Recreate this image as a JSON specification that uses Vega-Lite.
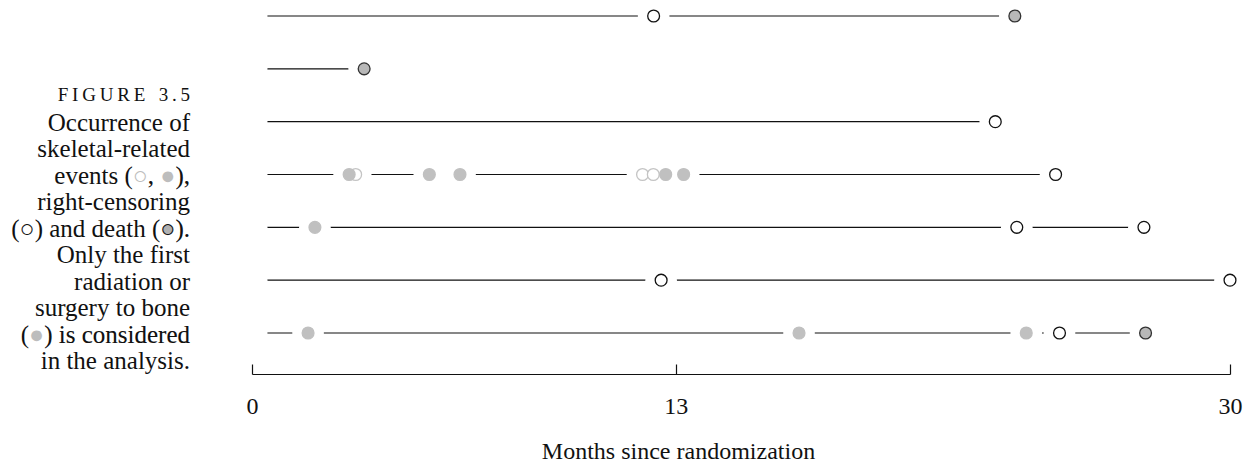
{
  "$schema": "https://vega.github.io/schema/vega-lite/v6.json",
  "padding": 0,
  "background": "white",
  "spacing": 62,
  "bounds": "flush",
  "resolve": {"scale": {"color": "independent", "fill": "independent", "stroke": "independent"}},
  "config": {
    "view": {"stroke": null},
    "font": "Liberation Serif",
    "text": {"font": "Liberation Serif"}
  },
  "hconcat": [
    {
      "width": 190,
      "height": 373,
      "encoding": {
        "x": {"datum": 1, "type": "quantitative", "scale": {"domain": [0, 1], "nice": false}, "axis": null},
        "y": {"field": "line", "type": "quantitative", "scale": {"domain": [-3.913, 10.189], "reverse": true, "nice": false, "zero": false}, "axis": null},
        "text": {"field": "text"},
        "color": {
          "field": "tone",
          "type": "nominal",
          "scale": {"domain": ["ink", "event", "death", "erase"], "range": ["#111111", "#bdbdbd", "#b0b0b0", "#ffffff"]},
          "legend": null
        },
        "stroke": {
          "field": "tone",
          "type": "nominal",
          "scale": {"domain": ["ink", "event", "death", "erase"], "range": ["transparent", "transparent", "transparent", "#ffffff"]},
          "legend": null
        }
      },
      "layer": [
        {
          "data": {"values": [{"line": -0.13, "text": "F\u2009I\u2009G\u2009U\u2009R\u2009E\u2002\u20093\u2009.\u20095", "tone": "ink"}]},
          "mark": {"type": "text", "align": "right", "baseline": "alphabetic", "fontSize": 19}
        },
        {
          "data": {
            "values": [
              {"line": 1, "text": "Occurrence of", "tone": "ink"},
              {"line": 2, "text": "skeletal-related", "tone": "ink"},
              {"line": 3, "text": "events (○, ●),", "tone": "ink"},
              {"line": 3, "text": "○, ●),", "tone": "erase"},
              {"line": 3, "text": "○, ●),", "tone": "event"},
              {"line": 3, "text": ", ●),", "tone": "ink"},
              {"line": 3, "text": "●),", "tone": "erase"},
              {"line": 3, "text": "●),", "tone": "event"},
              {"line": 3, "text": "),", "tone": "ink"},
              {"line": 4, "text": "right-censoring", "tone": "ink"},
              {"line": 5, "text": "(○) and death (●).", "tone": "ink"},
              {"line": 5, "text": "●).", "tone": "erase"},
              {"line": 5, "text": "●).", "tone": "death"},
              {"line": 5, "text": "○).", "tone": "ink"},
              {"line": 6, "text": "Only the first", "tone": "ink"},
              {"line": 7, "text": "radiation or", "tone": "ink"},
              {"line": 8, "text": "surgery to bone", "tone": "ink"},
              {"line": 9, "text": "(●) is considered", "tone": "ink"},
              {"line": 9, "text": "●) is considered", "tone": "erase"},
              {"line": 9, "text": "●) is considered", "tone": "event"},
              {"line": 9, "text": ") is considered", "tone": "ink"},
              {"line": 10, "text": "in the analysis.", "tone": "ink"}
            ]
          },
          "mark": {"type": "text", "align": "right", "baseline": "alphabetic", "fontSize": 25, "strokeWidth": 2.5}
        }
      ]
    },
    {
      "width": 978,
      "height": 373,
      "encoding": {
        "x": {
          "field": "t",
          "type": "quantitative",
          "scale": {"domain": [0, 30], "nice": false, "zero": false},
          "axis": {
            "values": [0, 13, 30],
            "title": "Months since randomization",
            "grid": false,
            "domainColor": "#111111",
            "domainWidth": 1.2,
            "tickColor": "#111111",
            "tickWidth": 1.2,
            "tickSize": -10,
            "labelFlush": false,
            "labelFont": "Liberation Serif",
            "labelFontSize": 24,
            "labelColor": "#111111",
            "labelBaseline": "alphabetic",
            "labelPadding": 49,
            "titleFont": "Liberation Serif",
            "titleFontSize": 24,
            "titleFontWeight": "normal",
            "titleColor": "#111111",
            "titleX": 426,
            "titleY": 84,
            "titleBaseline": "alphabetic"
          }
        },
        "y": {
          "field": "row",
          "type": "quantitative",
          "scale": {"domain": [0.716, 7.776], "reverse": true, "nice": false, "zero": false},
          "axis": null
        }
      },
      "layer": [
        {
          "data": {"name": "patients", "values": [
            {"row": 1, "t": 0, "end": 23.40},
            {"row": 2, "t": 0, "end": 3.44},
            {"row": 3, "t": 0, "end": 22.80},
            {"row": 4, "t": 0, "end": 24.65},
            {"row": 5, "t": 0, "end": 27.36},
            {"row": 6, "t": 0, "end": 30.0},
            {"row": 7, "t": 0, "end": 27.41}
          ]},
          "mark": {"type": "rule", "color": "#111111", "strokeWidth": 1.2},
          "encoding": {"x2": {"field": "end"}}
        },
        {
          "data": {"name": "patients"},
          "mark": {"type": "point", "shape": "circle", "filled": true, "color": "white", "opacity": 1, "size": 960}
        },
        {
          "data": {"name": "events", "values": [
            {"row": 4, "t": 3.18, "event": "skeletal-related event"},
            {"row": 4, "t": 11.98, "event": "skeletal-related event"},
            {"row": 4, "t": 12.31, "event": "skeletal-related event"},
            {"row": 4, "t": 2.98, "event": "radiation or surgery"},
            {"row": 4, "t": 5.44, "event": "radiation or surgery"},
            {"row": 4, "t": 6.38, "event": "radiation or surgery"},
            {"row": 4, "t": 12.69, "event": "radiation or surgery"},
            {"row": 4, "t": 13.24, "event": "radiation or surgery"},
            {"row": 5, "t": 1.93, "event": "radiation or surgery"},
            {"row": 7, "t": 1.72, "event": "radiation or surgery"},
            {"row": 7, "t": 16.78, "event": "radiation or surgery"},
            {"row": 7, "t": 23.75, "event": "radiation or surgery"},
            {"row": 1, "t": 12.32, "event": "right-censoring"},
            {"row": 3, "t": 22.80, "event": "right-censoring"},
            {"row": 4, "t": 24.65, "event": "right-censoring"},
            {"row": 5, "t": 23.46, "event": "right-censoring"},
            {"row": 5, "t": 27.36, "event": "right-censoring"},
            {"row": 6, "t": 12.55, "event": "right-censoring"},
            {"row": 6, "t": 30.0, "event": "right-censoring"},
            {"row": 7, "t": 24.77, "event": "right-censoring"},
            {"row": 1, "t": 23.40, "event": "death"},
            {"row": 2, "t": 3.44, "event": "death"},
            {"row": 7, "t": 27.41, "event": "death"}
          ]},
          "mark": {"type": "point", "shape": "circle", "filled": true, "color": "white", "opacity": 1, "size": 1000}
        },
        {
          "data": {"name": "events"},
          "mark": {"type": "point", "shape": "circle", "opacity": 1, "size": 140, "strokeWidth": 1.3},
          "encoding": {
            "fill": {
              "field": "event",
              "type": "nominal",
              "scale": {
                "domain": ["skeletal-related event", "radiation or surgery", "right-censoring", "death"],
                "range": ["#ffffff", "#c0c0c0", "#ffffff", "#b8b8b8"]
              },
              "legend": null
            },
            "stroke": {
              "field": "event",
              "type": "nominal",
              "scale": {
                "domain": ["skeletal-related event", "radiation or surgery", "right-censoring", "death"],
                "range": ["#c4c4c4", "#c0c0c0", "#111111", "#333333"]
              },
              "legend": null
            }
          }
        }
      ]
    }
  ]
}
